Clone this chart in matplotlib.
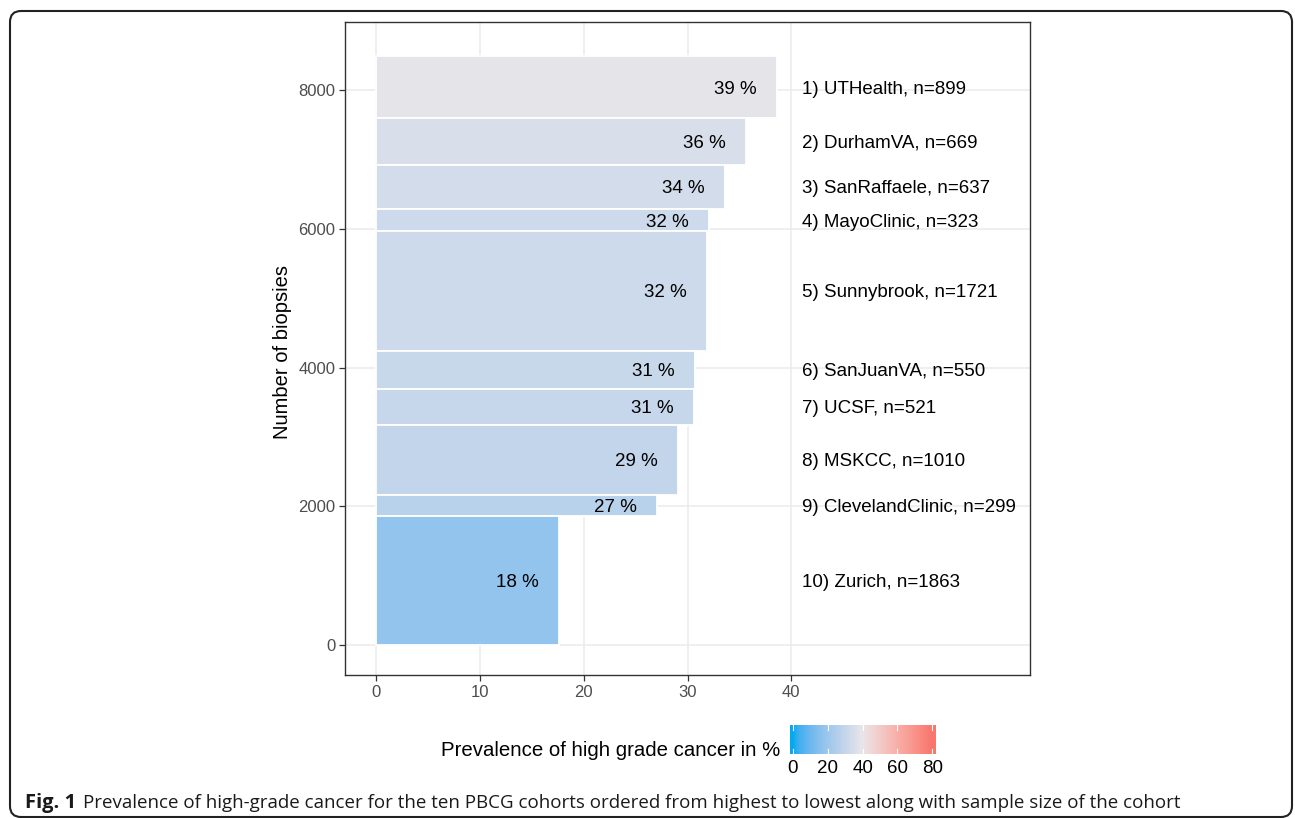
"""
Prevalence of high-grade cancer per PBCG cohort.

Bar height = cohort sample size (stacked), bar length = prevalence in %.
"""

import matplotlib
matplotlib.use("Agg")
import matplotlib.pyplot as plt
import numpy as np
from matplotlib import font_manager
from matplotlib.colors import ListedColormap, Normalize, to_rgb
from matplotlib.patches import FancyBboxPatch
from matplotlib.transforms import IdentityTransform


# cohorts ordered from highest to lowest prevalence
cohorts = ["UTHealth", "DurhamVA", "SanRaffaele", "MayoClinic", "Sunnybrook",
           "SanJuanVA", "UCSF", "MSKCC", "ClevelandClinic", "Zurich"]
sizes = [899, 669, 637, 323, 1721, 550, 521, 1010, 299, 1863]
prevalence = [38.6, 35.6, 33.6, 32.1, 31.9, 30.7, 30.6, 29.1, 27.1, 17.6]

x_ticks = [0, 10, 20, 30, 40]
y_ticks = [0, 2000, 4000, 6000, 8000]
legend_ticks = [0, 20, 40, 60, 80]

W, H = 1295, 818

plt.rcParams["font.family"] = ["Liberation Sans", "DejaVu Sans"]


# --- gradient2-style palette (interpolated in Lab space) ---
WHITE = np.array([0.95047, 1.0, 1.08883])
M_RGB2XYZ = np.array([[0.4124, 0.3576, 0.1805],
                      [0.2126, 0.7152, 0.0722],
                      [0.0193, 0.1192, 0.9505]])
M_XYZ2RGB = np.linalg.inv(M_RGB2XYZ)
D = 6 / 29


def to_lab(color):
    rgb = np.array(to_rgb(color))
    lin = np.where(rgb <= 0.04045, rgb / 12.92, ((rgb + 0.055) / 1.055) ** 2.4)
    xyz = M_RGB2XYZ @ lin / WHITE
    f = np.where(xyz > D ** 3, np.cbrt(xyz), xyz / (3 * D ** 2) + 4 / 29)
    return np.array([116 * f[1] - 16, 500 * (f[0] - f[1]), 200 * (f[1] - f[2])])


def from_lab(lab):
    fy = (lab[0] + 16) / 116
    f = np.array([fy + lab[1] / 500, fy, fy - lab[2] / 200])
    xyz = np.where(f > D, f ** 3, 3 * D ** 2 * (f - 4 / 29)) * WHITE
    lin = M_XYZ2RGB @ xyz
    lin = np.clip(lin, 0, 1)
    rgb = np.where(lin <= 0.0031308, 12.92 * lin, 1.055 * lin ** (1 / 2.4) - 0.055)
    return np.clip(rgb, 0, 1)


def gradient2(low, mid, high, n=256):
    lo, mi, hi = to_lab(low), to_lab(mid), to_lab(high)
    out = []
    for t in np.linspace(0, 1, n):
        if t <= 0.5:
            lab = lo + (mi - lo) * (t / 0.5)
        else:
            lab = mi + (hi - mi) * ((t - 0.5) / 0.5)
        out.append(from_lab(lab))
    return ListedColormap(out)


cmap = gradient2("#00AAF0", "#E9E6E9", "#F8766D")
norm = Normalize(vmin=0, vmax=80)


fig = plt.figure(figsize=(W / 100, H / 100), dpi=100)
ax = fig.add_axes([345 / W, 1 - 675 / H, (1030 - 345) / W, (675 - 22) / H])

sizes_arr = np.array(sizes)
total = sizes_arr.sum()
bottoms = total - np.cumsum(sizes_arr)
centers = bottoms + sizes_arr / 2

ax.barh(centers, prevalence, height=sizes_arr, left=0,
        color=cmap(norm(np.array(prevalence))),
        edgecolor="white", linewidth=1.3, zorder=2)

for i, (name, n, p, yc) in enumerate(zip(cohorts, sizes, prevalence, centers)):
    ax.text(p - 4, yc, f"{p:.0f} %", ha="center", va="center_baseline",
            fontsize=13.5, color="black", zorder=3)
    ax.text(41, yc, f"{i + 1}) {name}, n={n}", ha="left", va="center_baseline",
            fontsize=13.5, color="black", zorder=3)

ax.set_xlim(-3, 63)
ax.set_ylim(-432, 8980)
ax.set_xticks(x_ticks)
ax.set_yticks(y_ticks)
ax.tick_params(colors="#333333", labelcolor="#4D4D4D", labelsize=12,
               length=4, width=0.9, pad=3)
ax.grid(color="#EBEBEB", linewidth=1.1)
ax.set_axisbelow(True)
for spine in ax.spines.values():
    spine.set_color("#333333")
    spine.set_linewidth(1.0)

fig.text(283 / W, 1 - 352 / H, "Number of biopsies", rotation=90,
         ha="center", va="center", fontsize=14.5, color="black")

# colour legend
fig.text(780 / W, 1 - 750 / H, "Prevalence of high grade cancer in %",
         ha="right", va="center", fontsize=14.7, color="black")
cax = fig.add_axes([790 / W, 1 - 754 / H, 146 / W, 29 / H])
grad = np.linspace(-1.7, 82.2, 400)
cax.imshow(grad[None, :], extent=[-1.7, 82.2, 0, 1], aspect="auto",
           cmap=cmap, norm=norm)
for v in legend_ticks:
    cax.plot([v, v], [0, 0.18], color="white", linewidth=0.8)
    cax.plot([v, v], [0.82, 1], color="white", linewidth=0.8)
cax.set_xlim(-1.7, 82.2)
cax.set_ylim(0, 1)
cax.set_xticks(legend_ticks)
cax.set_yticks([])
cax.tick_params(length=0, labelsize=13.5, pad=4, labelcolor="black")
for spine in cax.spines.values():
    spine.set_visible(False)

# caption
names = {f.name for f in font_manager.fontManager.ttflist}
cap_family = next((f for f in ["Liberation Sans Narrow", "Open Sans"] if f in names),
                  "DejaVu Sans")
renderer = fig.canvas.get_renderer()
cap_size = 14.5
t1 = fig.text(25 / W, 10 / H, "Fig. 1", fontsize=cap_size, fontweight="bold",
              family=cap_family, ha="left", va="baseline", color="#1A1A1A")
bb = t1.get_window_extent(renderer)
caption = ("Prevalence of high-grade cancer for the ten PBCG cohorts ordered "
           "from highest to lowest along with sample size of the cohort")
t2 = fig.text((bb.x1 + 7) / W, 10 / H, caption, fontsize=cap_size,
              family=cap_family, ha="left", va="baseline", color="#1A1A1A")
w2 = t2.get_window_extent(renderer).width
t2.set_fontsize(min(cap_size * (1180 - bb.x1 - 7) / w2, 16))

# rounded frame around the figure
frame = FancyBboxPatch((10, 1), 1282, 806, boxstyle="round,pad=0,rounding_size=11",
                       transform=IdentityTransform(), fill=False,
                       edgecolor="#222222", linewidth=1.5)
fig.add_artist(frame)

fig.savefig("out.png", dpi=100)
